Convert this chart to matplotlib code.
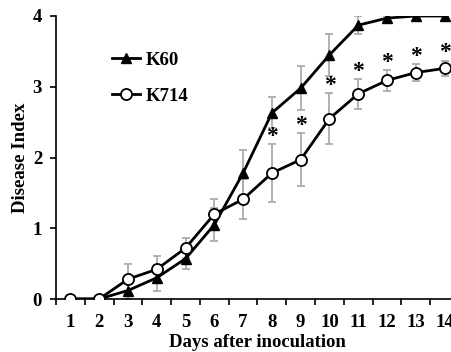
import numpy as np
import matplotlib
matplotlib.use("Agg")
import matplotlib.pyplot as plt

# Data
days = [1, 2, 3, 4, 5, 6, 7, 8, 9, 10, 11, 12, 13, 14]
k60_mean = [0, 0, 0.12, 0.30, 0.57, 1.05, 1.78, 2.63, 2.98, 3.45, 3.87, 3.97, 4.0, 4.0]
k60_err = [0, 0, 0.12, 0.18, 0.15, 0.23, 0.32, 0.22, 0.31, 0.30, 0.13, 0.03, 0.0, 0.0]
k714_mean = [0, 0, 0.28, 0.42, 0.72, 1.20, 1.41, 1.78, 1.97, 2.55, 2.90, 3.09, 3.20, 3.26]
k714_err = [0, 0, 0.21, 0.19, 0.14, 0.21, 0.28, 0.41, 0.37, 0.36, 0.21, 0.15, 0.12, 0.11]
significant = [False] * 7 + [True] * 7

plt.rcParams["font.family"] = ["Liberation Serif", "DejaVu Serif"]
plt.rcParams["font.weight"] = "bold"

fig = plt.figure(figsize=(4.52, 3.52), dpi=100)
ax = fig.add_axes([56 / 452, 53 / 352, 403 / 452, 283 / 352])

err_kw = dict(fmt="none", ecolor="#ababab", elinewidth=1.3, capsize=3, capthick=1.3, zorder=1)
ax.errorbar(days, k60_mean, yerr=k60_err, **err_kw)
ax.errorbar(days, k714_mean, yerr=k714_err, **err_kw)

ax.plot(days, k60_mean, color="black", linewidth=2.0, marker="^", markersize=6.5,
        markerfacecolor="black", label="K60", zorder=3)
ax.plot(days, k714_mean, color="black", linewidth=2.0, marker="o", markersize=8,
        markerfacecolor="white", markeredgewidth=1.3, label="K714", zorder=3)

# significance asterisks above the K714 error bars
for d, m, e, s in zip(days, k714_mean, k714_err, significant):
    if s:
        ax.annotate("*", (d, m + e), xytext=(0, -2), textcoords="offset points",
                    ha="center", va="bottom", fontsize=17, fontweight="bold")

ax.set_xlim(0.5, 14.5)
ax.set_ylim(0, 4)
ax.set_yticks([0, 1, 2, 3, 4])
ax.set_xticks(days)
ax.set_xticks(np.arange(0.5, 15, 1), minor=True)
ax.tick_params(axis="x", which="major", length=0, pad=11, labelsize=13.5)
ax.tick_params(axis="x", which="minor", length=4, width=1.2, direction="out")
ax.tick_params(axis="y", length=4, width=1.2, direction="out", pad=6, labelsize=13.5)

for side in ["top", "right"]:
    ax.spines[side].set_visible(False)
for side in ["left", "bottom"]:
    ax.spines[side].set_linewidth(1.2)

ax.set_xlabel("Days after inoculation", fontsize=13.5, fontweight="bold", labelpad=2)
ax.set_ylabel("Disease Index", fontsize=13.5, fontweight="bold", labelpad=3)

leg = ax.legend(loc="upper left", bbox_to_anchor=(0.12, 0.90), frameon=False, fontsize=13.5,
                handlelength=1.5, handletextpad=0.3, labelspacing=1.0, borderaxespad=0)

fig.savefig("out.png", dpi=100)
